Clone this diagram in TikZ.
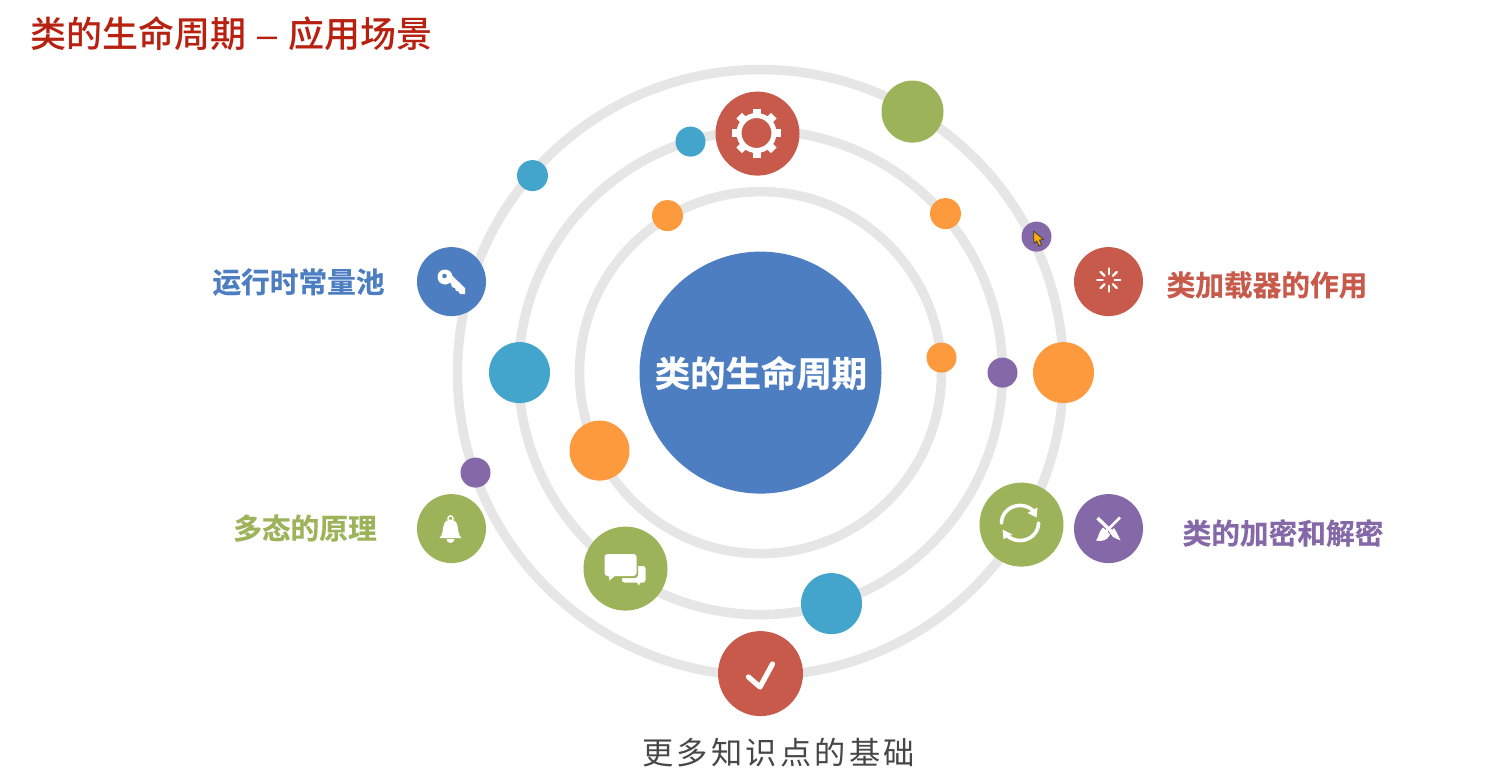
\documentclass[tikz,border=0pt]{standalone}
\usepackage{fontspec}
\setmainfont{Noto Sans CJK SC}
\newfontfamily\medcjk{Noto Sans CJK SC Medium}
\newfontfamily\dashfont{Liberation Sans}
\newfontfamily\hubfont[FakeBold=0.7]{Noto Sans CJK SC Bold}
\newfontfamily\lblfont[FakeBold=0.3]{Noto Sans CJK SC Bold}
\newfontfamily\spaced[LetterSpace=10.6]{Noto Sans CJK SC}
\definecolor{cblue}{HTML}{4D7EC2}
\definecolor{cgreen}{HTML}{9DB35A}
\definecolor{cred}{HTML}{C85A4B}
\definecolor{cpurple}{HTML}{8468A8}
\definecolor{cteal}{HTML}{43A4CC}
\definecolor{corange}{HTML}{FE9A3E}
\definecolor{cring}{HTML}{E6E6E6}
\definecolor{ctitle}{HTML}{B8200F}
\definecolor{ccursor}{HTML}{FFB000}
\tikzset{
  ring/.style={circle,draw=cring,line width=9.5pt,minimum size=#1,inner sep=0pt},
  dot/.style 2 args={circle,fill=#1,minimum size=#2,inner sep=0pt,outer sep=0pt},
  lbl/.style={font=\lblfont\fontsize{28.7}{29}\selectfont,anchor=center,inner sep=0pt},
  icon/.style={white,fill=white,draw=none},
  iconline/.style={draw=white,line cap=round,line join=round,fill=none}
}
\begin{document}
\begin{tikzpicture}[x=1pt,y=-1pt]
\useasboundingbox (0,0) rectangle (1497,779);
\fill[white] (0,0) rectangle (1497,779);
\begin{scope}[shift={(0.5,0.6)}]
\node[ring=606pt] (outer) at (760,372) {};
\node[ring=484pt] (middle) at (760,372) {};
\node[ring=362pt] (inner) at (760,372) {};
\node[dot={cblue}{242pt}] (hub) at (760,372) {};
\node[dot={cred}{84pt}] (gear) at (757,133) {};
\node[dot={cteal}{30pt}] (t1) at (690,141) {};
\node[dot={cteal}{31pt}] (t2) at (532,175) {};
\node[dot={cgreen}{62pt}] (g1) at (912,111) {};
\node[dot={corange}{31pt}] (o1) at (945,213) {};
\node[dot={corange}{31pt}] (o2) at (667,215) {};
\node[dot={cpurple}{30pt}] (p1) at (1036,236) {};
\node[dot={cred}{69pt}] (load) at (1108,281) {};
\node[dot={cblue}{69pt}] (key) at (451,281) {};
\node[dot={cteal}{61pt}] (t3) at (519,372) {};
\node[dot={corange}{61pt}] (o3) at (1063,372) {};
\node[dot={corange}{30pt}] (o4) at (941,357) {};
\node[dot={cpurple}{30pt}] (p2) at (1002,372) {};
\node[dot={corange}{60pt}] (o5) at (599,450) {};
\node[dot={cpurple}{30pt}] (p3) at (475,472) {};
\node[dot={cgreen}{69pt}] (bell) at (451,528) {};
\node[dot={cgreen}{84pt}] (chat) at (625,568) {};
\node[dot={cgreen}{84pt}] (sync) at (1021,524) {};
\node[dot={cpurple}{69pt}] (brush) at (1108,528) {};
\node[dot={cteal}{61pt}] (t4) at (831,603) {};
\node[dot={cred}{85pt}] (check) at (760,673) {};
\end{scope}
\node[font=\hubfont\fontsize{35.4}{36}\selectfont,text=white,inner sep=0pt] (hubt) at (761,373) {类的生命周期};
% gear icon
\draw[white,line width=5pt] (756.5,133) circle (17.5pt);
\foreach \a in {0,45,...,315}
  \fill[white,rotate around={\a:(756.5,133)}] (752.5,133-24.5) rectangle (760.5,133-18.5);
% loader icon
\foreach \a in {0,45,...,315}
  \draw[iconline,line width=2.4pt,rotate around={\a:(1108.7,280)}] (1108.7,280-6) -- (1108.7,280-11.5);
% key icon
\fill[icon,even odd rule] (445,277) circle (7.5pt) (444.5,276) circle (2.4pt);
\fill[icon] (448,279) -- (452,275.5) -- (465,288) -- (465,294) -- (460,294) -- (458,291) -- (456,291) -- (455,288) -- (452,287) -- (451,284) -- cycle;
% bell icon
\draw[white,line width=1.4pt] (450.5,518.5) circle (2.6pt);
\fill[icon] (439.5,538) .. controls (443,535) and (442.5,530) .. (443.5,526) .. controls (444.5,521) and (447.5,519.5) .. (450.5,519.5) .. controls (453.5,519.5) and (456.5,521) .. (457.5,526) .. controls (458.5,530) and (458,535) .. (461.5,538) -- cycle;
\fill[icon] (446.5,539) arc[start angle=180,end angle=360,radius=4pt] -- cycle;
% chat icon
\fill[icon,rounded corners=2.5pt] (622,566) rectangle (645.5,582.5);
\fill[icon] (636,581) -- (641,581) -- (639,585.5) -- cycle;
\fill[cgreen,rounded corners=3pt] (603,552) rectangle (638,578);
\fill[icon,rounded corners=3pt] (604.5,554) rectangle (636.5,576);
\fill[icon] (608.5,575) -- (616,575) -- (609.5,580.5) -- cycle;
% sync icon
\draw[iconline,line width=3.6pt,domain=180:40,samples=30,smooth,variable=\t] plot ({1020+18.5*cos(\t)},{523-17.5*sin(\t)});
\fill[icon] (1037.5,507.5) -- (1036.5,517.5) -- (1027.5,513) -- cycle;
\draw[iconline,line width=3.6pt,domain=0:-140,samples=30,smooth,variable=\t] plot ({1020+18.5*cos(\t)},{523-17.5*sin(\t)});
\fill[icon] (1002.5,529.5) -- (1003.5,539) -- (1012.5,534.5) -- cycle;
% brush icon
\draw[white,line width=3.4pt] (1097.5,518) -- (1112,532);
\fill[icon] (1109.5,532.5) -- (1114,528) -- (1117,533) -- (1120.5,540.5) -- (1113,537) -- cycle;
\draw[white,line width=2.8pt] (1120,517.5) -- (1105.5,532);
\fill[icon] (1103,527.5) -- (1110,534.5) .. controls (1108,540) and (1102,542) .. (1096,540.5) .. controls (1099,537.5) and (1098,532) .. (1103,527.5) -- cycle;
% check icon
\draw[iconline,line width=5.2pt] (748.5,677) -- (760,687) -- (772.5,664);
% cursor
\draw[fill=ccursor,draw=black!75,line width=.8pt,line join=round] (1033.5,231) -- (1034,243.5) -- (1036.8,241) -- (1039,246) -- (1041.5,244.8) -- (1039.5,240) -- (1043.5,239.5) -- cycle;
% labels
\node[font=\medcjk\fontsize{36}{36}\selectfont,text=ctitle,anchor=west,inner sep=0pt] (title) at (30,34) {类的生命周期\hspace{11pt}{\dashfont –}\hspace{11pt}应用场景};
\node[lbl,text=cblue] (l1) at (298.5,282) {运行时常量池};
\node[lbl,text=cred] (l2) at (1267,285) {类加载器的作用};
\node[lbl,text=cgreen] (l3) at (305,528) {多态的原理};
\node[lbl,text=cpurple] (l4) at (1283,533) {类的加密和解密};
\node[font=\spaced\fontsize{31.2}{31}\selectfont,text=black!72,inner sep=0pt] (l5) at (778.7,753) {更多知识点的基础};
\end{tikzpicture}
\end{document}
